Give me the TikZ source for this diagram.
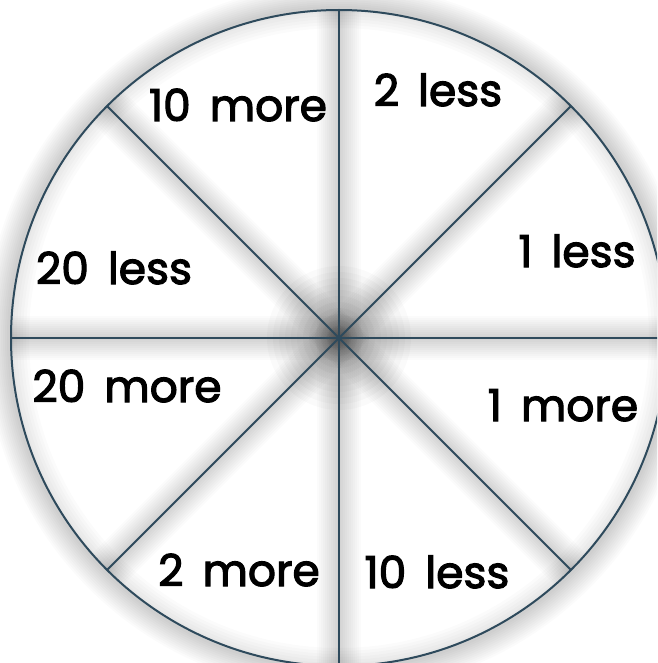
\documentclass[tikz,border=0pt]{standalone}
\usepackage{fontspec}
\setmainfont{Poppins}
\newfontfamily\lblfont{Poppins}[FakeBold=2.6]
\definecolor{linec}{HTML}{2E4A5C}
\begin{document}
\begin{tikzpicture}[x=1pt,y=-1pt,
  spoke/.style={draw=linec, line width=2pt},
  rim/.style={draw=linec, line width=2pt},
  shade/.style={draw=black, opacity=0.016},
  lbl/.style={font=\lblfont\fontsize{44}{44}\selectfont, anchor=base, inner sep=0pt}]
\useasboundingbox (0,0) rectangle (657,663);
\clip (0,0) rectangle (657,663);
\fill[white] (0,0) rectangle (657,663);
\coordinate (c) at (339,338);
% outer shadow of circle
\foreach \w in {48,44,...,4}{
  \draw[shade, line width=\w pt] (c) circle (330);
}
\fill[white] (c) circle (328);
% rim coordinates
\foreach \a in {0,45,...,315}{
  \path (c) ++(\a:328) coordinate (p\a);
}
% spoke shadows
\begin{scope}
  \clip (c) circle (328);
  \foreach \a in {0,45,...,315}{
    \foreach \w in {44,40,...,4}{
      \draw[shade, line width=\w pt] (c) -- (p\a);
    }
  }
  \foreach \w in {36,30,...,6}{
    \draw[shade, line width=\w pt] (c) circle (328);
  }
  \foreach \r in {6,12,...,72}{
    \fill[black, opacity=0.018] (c) circle (\r);
  }
\end{scope}
% spokes
\foreach \a in {0,45,...,315}{
  \draw[spoke] (c) -- (p\a);
}
\draw[rim] (c) circle (328);
% labels
\node[lbl] (l1) at (238,121) {10\, more};
\node[lbl] (l2) at (438,106) {2\, less};
\node[lbl] (l3) at (577,267) {1\, less};
\node[lbl] (l4) at (114,284) {20\, less};
\node[lbl] (l5) at (127,402) {20\, more};
\node[lbl] (l6) at (563,421) {1\, more};
\node[lbl] (l7) at (239,586) {2\, more};
\node[lbl] (l8) at (437,588) {10\, less};
\end{tikzpicture}
\end{document}
